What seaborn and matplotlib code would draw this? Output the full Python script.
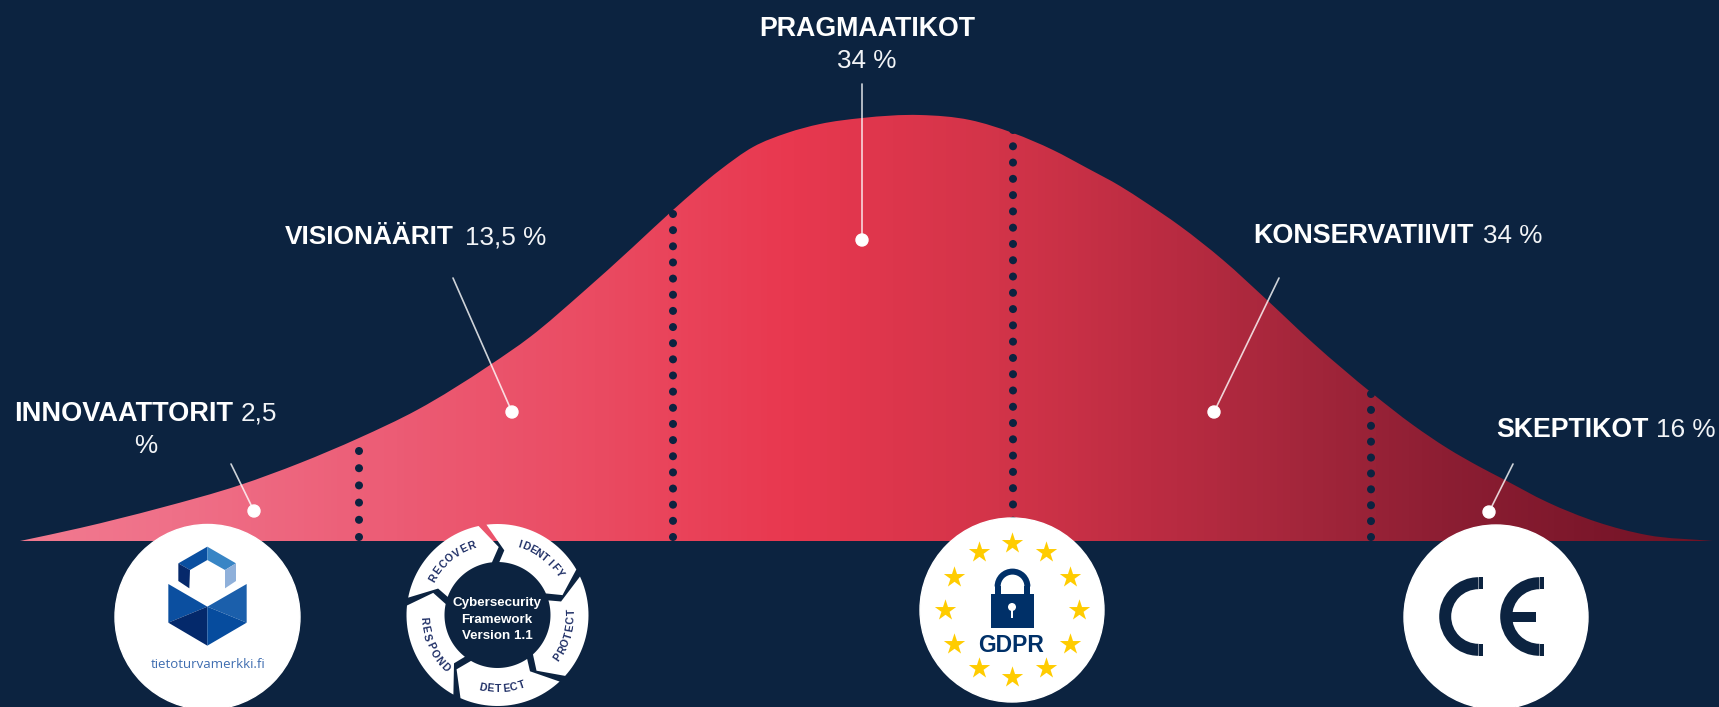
import numpy as np
import pandas as pd
import matplotlib
matplotlib.use('Agg')
import matplotlib.pyplot as plt
import seaborn as sns
from matplotlib.colors import LinearSegmentedColormap
from matplotlib.patches import Circle, Polygon, Wedge, Rectangle, PathPatch
from matplotlib.path import Path

# adoption curve (horizontal position, height above the base line)
curve_pos = [20, 80, 160, 240, 300, 359, 417, 490, 530, 583, 633, 673, 720, 753, 787, 820, 862,
             920, 970, 1013, 1053, 1087, 1120, 1145, 1180, 1223, 1267, 1313, 1373, 1413, 1447, 1480,
             1503, 1547, 1597, 1647, 1713]
curve_height = [0, 13, 33, 56, 78, 103, 131, 176, 204, 249, 294, 331, 371, 394, 408, 417, 423,
                426, 421, 408, 391, 373, 355, 339, 315, 281, 241, 198, 147, 116, 93, 74,
                62, 39, 19, 6, 0]

# dotted dividers between the groups
divider_pos = [359, 673, 1013, 1371]
divider_top = [90, 327, 411, 147]
divider_dots = [6, 21, 26, 10]

group_names = ['INNOVAATTORIT', 'VISIONÄÄRIT', 'PRAGMAATIKOT', 'KONSERVATIIVIT', 'SKEPTIKOT']
group_shares = ['2,5', '13,5 %', '34 %', '34 %', '16 %']

NAVY = '#0c2340'
BASE_Y = 541
W, H = 1719, 707


def smooth_outline(xs, ys):
    # cubic segments through the read points, closed along the base line
    xs, ys = np.asarray(xs, float), np.asarray(ys, float)
    slopes = np.gradient(ys, xs)
    verts = [(xs[0], ys[0])]
    codes = [Path.MOVETO]
    for i in range(len(xs) - 1):
        dx = (xs[i + 1] - xs[i]) / 3
        verts += [(xs[i] + dx, ys[i] + slopes[i] * dx),
                  (xs[i + 1] - dx, ys[i + 1] - slopes[i + 1] * dx),
                  (xs[i + 1], ys[i + 1])]
        codes += [Path.CURVE4] * 3
    verts.append((xs[0], ys[0]))
    codes.append(Path.LINETO)
    return Path(verts, codes)


sns.set_theme(style='dark', rc={'figure.facecolor': NAVY, 'axes.facecolor': NAVY})
plt.rcParams['font.family'] = ['Liberation Sans', 'DejaVu Sans']

fig = plt.figure(figsize=(W / 100, H / 100), dpi=100)
ax = fig.add_axes([0, 0, 1, 1])

# curve with horizontal gradient
curve = pd.DataFrame({'pos': curve_pos, 'height': curve_height})
ramp = LinearSegmentedColormap.from_list('ramp', [
    (0.00, '#f27a90'), (0.09, '#ef7088'), (0.22, '#ec5c75'), (0.34, '#ea4b62'), (0.455, '#e8384f'),
    (0.58, '#d23449'), (0.67, '#bc2c42'), (0.76, '#a3263b'), (0.84, '#8d1e33'), (1.00, '#6f1225')])
img = ax.imshow(np.linspace(0, 1, 512).reshape(1, -1), cmap=ramp, aspect='auto',
                extent=[curve_pos[0], curve_pos[-1], 0, max(curve_height) + 3], zorder=1)
outline = PathPatch(smooth_outline(curve['pos'], curve['height']), transform=ax.transData,
                    facecolor='none', edgecolor='none')
ax.add_patch(outline)
img.set_clip_path(outline)

for pos, top, n in zip(divider_pos, divider_top, divider_dots):
    heights = np.linspace(4, top, n)
    sns.scatterplot(x=[pos] * n, y=heights, color=NAVY, s=33, edgecolor='none', ax=ax, zorder=3)

ax.set_xlim(0, W)
ax.set_ylim(BASE_Y - H, BASE_Y)
ax.set_axis_off()

# overlay in picture coordinates for callouts and logos
ov = fig.add_axes([0, 0, 1, 1], facecolor='none')
ov.set_xlim(0, W)
ov.set_ylim(H, 0)
ov.set_axis_off()

# callouts
bold_sizes = [19.5, 18.9, 19.3, 19.4, 19.3]
share_size = 18.8
bold_xy = [(14, 421), (285, 244), (867, 36), (1253, 243), (1496, 437)]
share_xy = [(241, 421), (465, 244), (867, 68), (1483, 243), (1656, 437)]
leaders = [((231, 464), (254, 511)), ((453, 278), (512, 412)), ((862, 84), (862, 240)),
           ((1279, 278), (1214, 412)), ((1513, 464), (1489, 512))]
for i, name in enumerate(group_names):
    ha = 'center' if i == 2 else 'left'
    ov.text(*bold_xy[i], name, color='white', fontsize=bold_sizes[i], fontweight='bold', ha=ha, va='baseline')
    ov.text(*share_xy[i], group_shares[i], color='#f2f4f7', fontsize=share_size, ha=ha, va='baseline')
    (x0, y0), (x1, y1) = leaders[i]
    ov.plot([x0, x1], [y0, y1], color='white', alpha=0.8, lw=1.2, zorder=4)
    ov.add_patch(Circle((x1, y1), 6, color='white', zorder=5))
ov.text(146, 453, '%', color='#f2f4f7', fontsize=share_size, ha='center', va='baseline')

# tietoturvamerkki logo
ov.add_patch(Circle((207.5, 617), 92.5, color='white', zorder=3))


def z1(points):
    return [(90 + x / 3, 500 + y / 3) for x, y in points]


shield = [
    ([(235, 252), (352, 320), (235, 368)], '#0b4fa0'),
    ([(470, 252), (352, 320), (470, 368)], '#1b5fab'),
    ([(235, 368), (352, 320), (352, 437)], '#04296b'),
    ([(352, 320), (470, 368), (352, 437)], '#064c9e'),
    ([(352, 140), (352, 180), (300, 210), (265, 190)], '#0a4fa0'),
    ([(352, 140), (438, 190), (405, 210), (352, 180)], '#3885c5'),
    ([(265, 190), (300, 210), (298, 265), (265, 243)], '#06296b'),
    ([(405, 210), (438, 190), (438, 243), (405, 265)], '#8fb0da'),
]
for pts, col in shield:
    ov.add_patch(Polygon(z1(pts), closed=True, color=col, lw=0, zorder=4))
ov.text(208, 668, 'tietoturvamerkki.fi', color='#3e6db0', fontsize=9.5, family='Open Sans',
        ha='center', va='baseline', zorder=4)

# cybersecurity framework ring
cx, cy, r_out, r_in = 497.5, 615, 91, 53


def polar(angle, r):
    a = np.radians(angle)
    return (cx + r * np.cos(a), cy - r * np.sin(a))


for k in range(-1, 4):
    off = -72 * k
    pts = [polar(a + off, r_out) for a in np.linspace(97, 30, 30)]
    pts += [polar(17 + off, 68)]
    pts += [polar(a + off, r_in) for a in np.linspace(24, 88, 30)]
    pts += [polar(84 + off, 65)]
    ov.add_patch(Polygon(pts, closed=True, color='white', lw=0, zorder=3))

ring_words = [('RECOVER', 150, 110, 1), ('IDENTIFY', 73, 34, 1), ('PROTECT', -35, 2, -1),
              ('DETECT', -102, -71, -1), ('RESPOND', 184, 225, -1)]
for word, a0, a1, side in ring_words:
    for ch, a in zip(word, np.linspace(a0, a1, len(word))):
        rot = a - 90 if side == 1 else a + 90
        ov.text(*polar(a, 74), ch, color='#1f2f66', fontsize=7.6, fontweight='bold', rotation=rot,
                rotation_mode='anchor', ha='center', va='center', zorder=4)
for txt, y in [('Cybersecurity', 603), ('Framework', 620), ('Version 1.1', 636)]:
    ov.text(497, y, txt, color='white', fontsize=9.6, fontweight='bold', ha='center', va='center', zorder=4)

# GDPR logo
gx, gy = 1012, 610
ov.add_patch(Circle((gx, gy), 92, color='white', zorder=3))
star_a = np.radians(np.arange(0, 360, 30))
ov.scatter(gx + 67 * np.cos(star_a), gy + 67 * np.sin(star_a), marker='*', s=260, color='#ffcc00',
           linewidths=0, zorder=4)
LOCK = '#003068'
ov.add_patch(Rectangle((990.6, 594), 43.4, 34, color=LOCK, lw=0, zorder=4))
ov.add_patch(Wedge((1012.5, 586.5), 17.9, 180, 360, width=6, color=LOCK, lw=0, zorder=4))
ov.add_patch(Rectangle((994.6, 586), 6, 9, color=LOCK, lw=0, zorder=4))
ov.add_patch(Rectangle((1024.4, 586), 6, 9, color=LOCK, lw=0, zorder=4))
ov.add_patch(Circle((1012, 607), 4, color='white', lw=0, zorder=5))
ov.add_patch(Rectangle((1011, 607), 2.2, 11, color='white', lw=0, zorder=5))
ov.text(1011.5, 652, 'GDPR', color=LOCK, fontsize=16.5, fontweight='bold', ha='center', va='baseline', zorder=4)

# CE logo
ov.add_patch(Circle((1496, 617), 92, color='white', zorder=3))
for left in (1478.5, 1539.5):
    ov.add_patch(Wedge((left, 616.5), 39.3, 90, 270, width=12, color=NAVY, lw=0, zorder=4))
    ov.add_patch(Rectangle((left, 577.2), 4.2, 12, color=NAVY, lw=0, zorder=4))
    ov.add_patch(Rectangle((left, 643.8), 4.2, 12, color=NAVY, lw=0, zorder=4))
ov.add_patch(Rectangle((1510, 611.7), 26, 10.6, color=NAVY, lw=0, zorder=4))

fig.savefig('out.png', dpi=100, facecolor=NAVY)
plt.close(fig)
